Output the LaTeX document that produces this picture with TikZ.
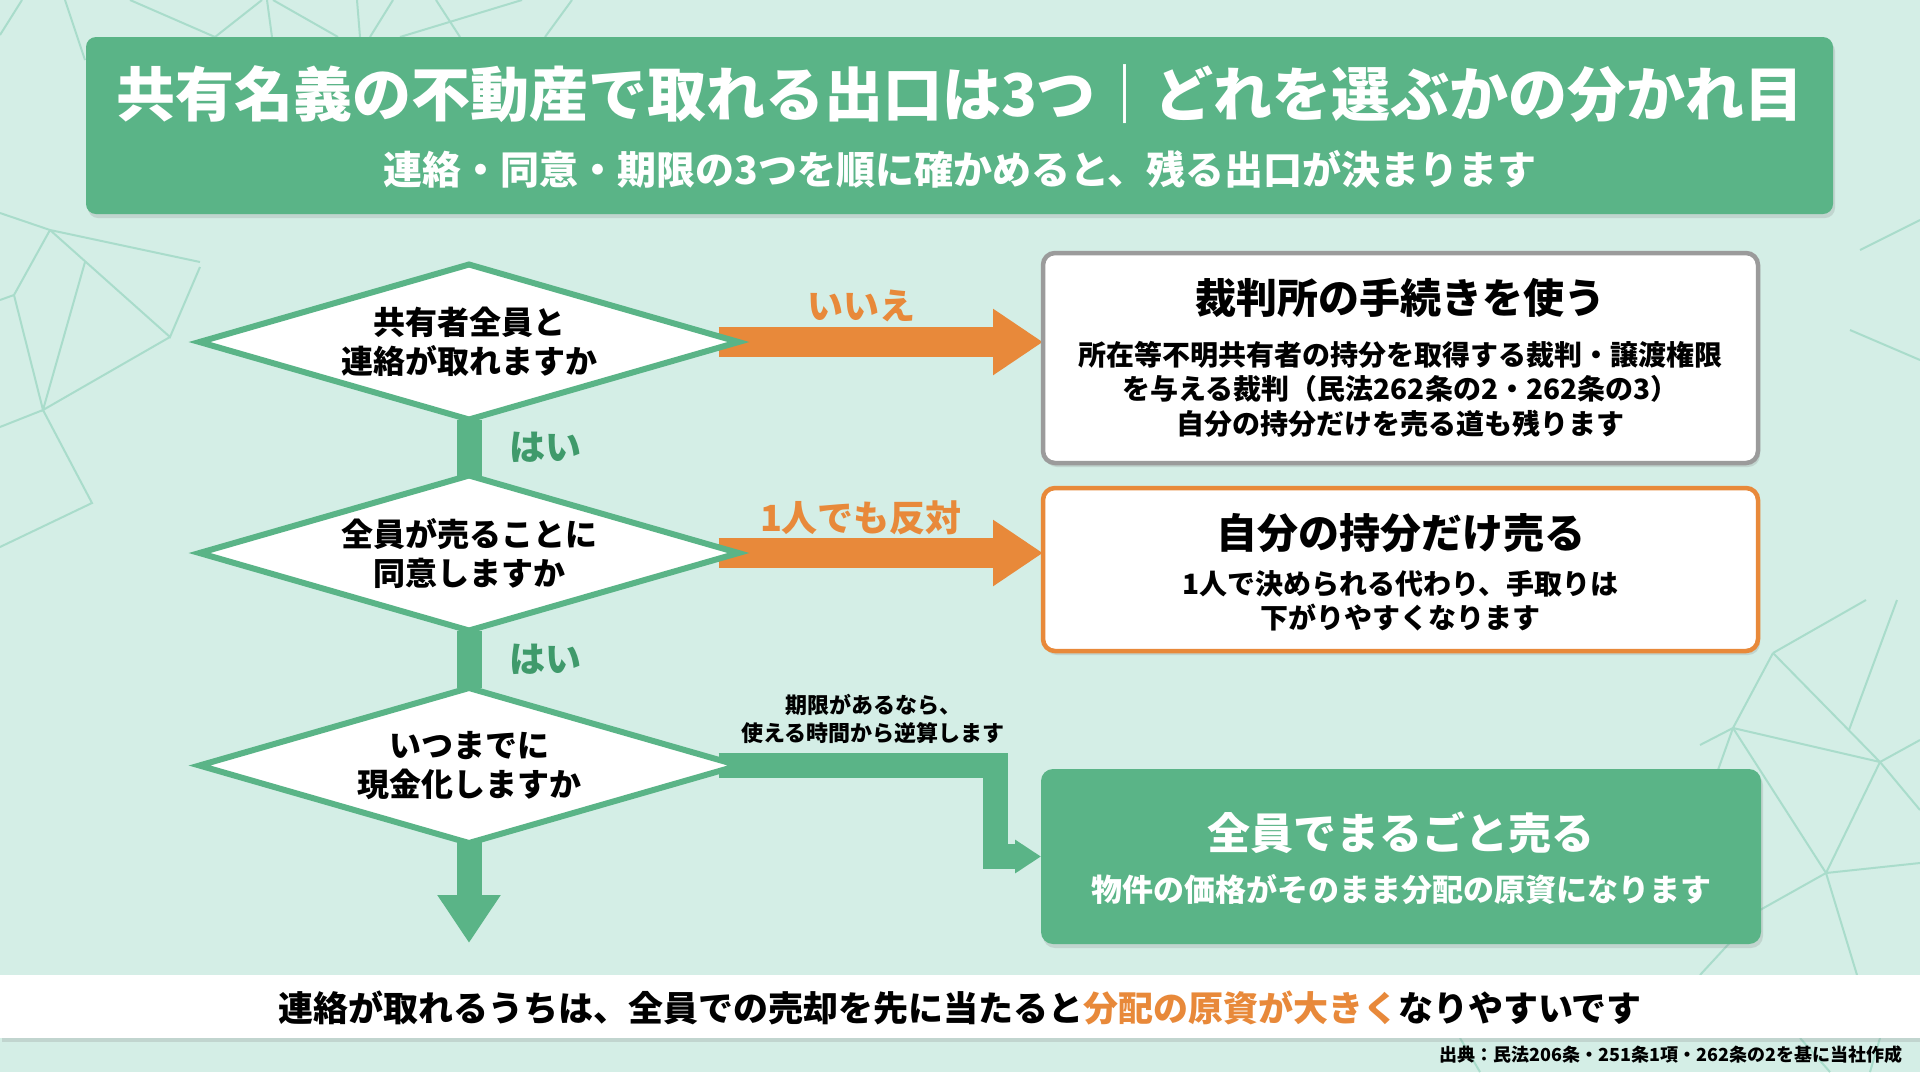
\documentclass[tikz,border=0pt]{standalone}
\usepackage{fontspec}
\setmainfont{Noto Sans CJK JP}
\usetikzlibrary{shapes.geometric,arrows.meta,shadows}
\pgfdeclarelayer{back}
\pgfdeclarelayer{conn}
\pgfsetlayers{back,conn,main}
\definecolor{bg}{HTML}{D4EEE6}
\definecolor{pat}{HTML}{A9DCCB}
\definecolor{grn}{HTML}{5AB487}
\definecolor{dgrn}{HTML}{3F9A6B}
\definecolor{org}{HTML}{E8893A}
\definecolor{gry}{HTML}{9B9B9B}
\newcommand{\fs}[2]{\fontsize{#1}{#2}\selectfont\bfseries}
\tikzset{
  shad/.style={drop shadow={shadow xshift=2pt,shadow yshift=-4pt,opacity=0.22}},
  dia/.style={shape=diamond,draw=grn,line width=6pt,fill=white,minimum width=539pt,minimum height=155pt,inner sep=0pt,aspect=3.4,align=center,font=\fs{32}{39},outer sep=0pt},
  card/.style={rectangle,rounded corners=12pt,minimum width=715pt,inner sep=0pt,outer sep=0pt},
  ttl/.style={font=\fs{41}{48},align=center},
  body/.style={font=\fs{28}{34.5},align=center},
  oarrow/.style={draw=org,line width=30pt,-{Triangle[width=63pt,length=50pt]}},
  garrow/.style={draw=grn,line width=25pt,line join=miter},
  lbl/.style={font=\fs{36}{40}},
  patline/.style={draw=pat,line width=2pt}
}
\begin{document}
\begin{tikzpicture}[x=1pt,y=-1pt]
\useasboundingbox (0,0) rectangle (1920,1072);
\begin{pgfonlayer}{back}
\fill[bg] (0,0) rectangle (1920,1072);
\begin{scope}[patline]
\draw (0,213) -- (50,230) -- (200,262);
\draw (50,230) -- (14,295) -- (43,410) -- (92,503) -- (0,547);
\draw (50,230) -- (170,337) -- (200,267);
\draw (85,262) -- (43,410) -- (170,337);
\draw (43,410) -- (0,427);
\draw (0,300) -- (14,295);
\draw (0,35) -- (22,0);
\draw (65,0) -- (85,60);
\draw (130,0) -- (215,37) -- (262,0);
\draw (267,0) -- (272,37);
\draw (273,0) -- (338,37);
\draw (357,0) -- (360,37);
\draw (393,0) -- (370,37);
\draw (436,0) -- (460,37);
\draw (522,0) -- (400,37);
\draw (572,0) -- (545,37);
\draw (1773,653) -- (1866,600);
\draw (1773,653) -- (1733,728) -- (1880,762) -- (1920,740);
\draw (1773,653) -- (1880,762) -- (1920,810);
\draw (1849,730) -- (1897,600);
\draw (1880,762) -- (1826,873) -- (1920,863);
\draw (1733,728) -- (1826,873) -- (1857,975);
\draw (1826,873) -- (1760,910);
\draw (1733,728) -- (1700,745);
\draw (1733,728) -- (1718,770);
\draw (1690,830) -- (1760,910) -- (1700,975);
\draw (1800,1038) -- (1830,1072);
\draw (1880,1038) -- (1870,1072);
\draw (1460,1038) -- (1480,1072);
\draw (1860,250) -- (1920,220);
\draw (1850,330) -- (1920,360);
\end{scope}
\end{pgfonlayer}
% title box
\node[rectangle,rounded corners=10pt,fill=grn,shad,minimum width=1747pt,minimum height=177pt,inner sep=0pt] (title) at (959.5,125.5) {};
\node[font=\fs{59}{65},text=white] (t1) at (960,94) {共有名義の不動産で取れる出口は3つ｜どれを選ぶかの分かれ目};
\node[font=\fs{39}{44},text=white] (t2) at (960,169) {連絡・同意・期限の3つを順に確かめると、残る出口が決まります};
% cards
\node[card,draw=gry,line width=4.5pt,fill=white,minimum height=210pt,shad] (b1) at (1400.5,358) {};
\node[ttl] (b1t) at (1400.5,298) {裁判所の手続きを使う};
\node[body] (b1b) at (1400.5,389) {所在等不明共有者の持分を取得する裁判・譲渡権限\\を与える裁判（民法262条の2・262条の3）\\自分の持分だけを売る道も残ります};
\node[card,draw=org,line width=4.5pt,fill=white,minimum height=163pt,shad] (b2) at (1400.5,569.5) {};
\node[ttl] (b2t) at (1400.5,533) {自分の持分だけ売る};
\node[body] (b2b) at (1400.5,600.5) {1人で決められる代わり、手取りは\\下がりやすくなります};
\node[card,fill=grn,minimum width=720pt,minimum height=175pt,shad] (b3) at (1401,856.5) {};
\node[font=\fs{43}{48},text=white] (b3t) at (1401,833) {全員でまるごと売る};
\node[font=\fs{31}{36},text=white] (b3b) at (1401,889) {物件の価格がそのまま分配の原資になります};
% diamonds
\node[dia] (d1) at (469,342) {共有者全員と\\連絡が取れますか};
\node[dia] (d2) at (469,553) {全員が売ることに\\同意しますか};
\node[dia] (d3) at (469,765.5) {いつまでに\\現金化しますか};
% connectors (beneath the shapes)
\coordinate (elb) at (995,765.5);
\begin{pgfonlayer}{conn}
\draw[garrow] (d1.south) -- (d2.north);
\draw[garrow] (d2.south) -- (d3.north);
\draw[oarrow] ([xshift=-20pt]d1.east) -- (d1.east -| b1.west);
\draw[oarrow] ([xshift=-20pt]d2.east) -- (d2.east -| b2.west);
\draw[garrow,-{Triangle[width=60pt,length=48pt]}] ([yshift=10pt]d3.south) -- ++(0,110);
\draw[garrow,-{Triangle[width=32pt,length=26pt]}] ([xshift=-20pt]d3.east) -- (elb) |- (b3.west);
\end{pgfonlayer}
% labels
\node[lbl,text=org] (l1) at (861,306) {いいえ};
\node[lbl,text=org] (l2) at (861,518) {1人でも反対};
\node[lbl,text=dgrn] (y1) at (545,447) {はい};
\node[lbl,text=dgrn] (y2) at (545,659) {はい};
\node[font=\fs{22}{28},align=center] (ann) at (873,719) {期限があるなら、\\使える時間から逆算します};
% bottom band
\node[rectangle,fill=white,minimum width=1920pt,minimum height=63pt,inner sep=0pt,shad] (band) at (960,1006.5) {};
\node[font=\fs{35}{40}] (bt) at (960,1008) {連絡が取れるうちは、全員での売却を先に当たると\textcolor{org}{分配の原資が大きく}なりやすいです};
\node[font=\fs{18}{20},anchor=east] (src) at (1906,1055) {出典：民法206条・251条1項・262条の2を基に当社作成};
\end{tikzpicture}
\end{document}
